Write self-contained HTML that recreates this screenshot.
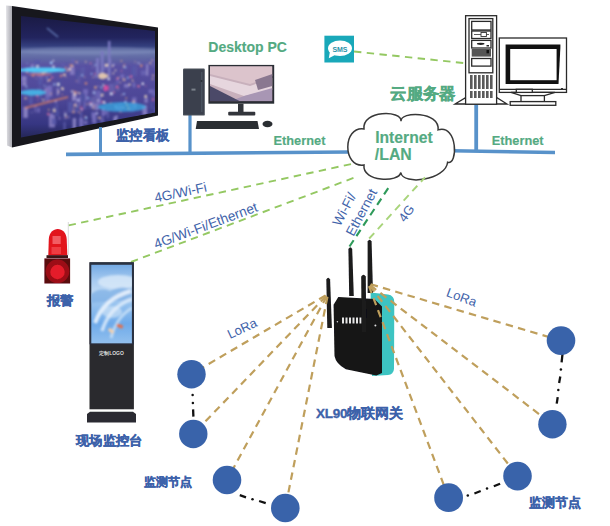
<!DOCTYPE html>
<html><head><meta charset="utf-8">
<style>
html,body{margin:0;padding:0;background:#fff;width:610px;height:526px;overflow:hidden}
svg{display:block;font-family:"Liberation Sans",sans-serif}
.g{fill:#54aa82;font-weight:bold;stroke:#54aa82;stroke-width:0.15px}
.b{fill:#3d62aa;font-weight:bold;stroke:#3d62aa;stroke-width:0.35px}
.t{fill:#3f63aa}
</style></head><body>
<svg width="610" height="526" viewBox="0 0 610 526">
<defs>
<linearGradient id="scr" x1="0" y1="16" x2="0" y2="136" gradientUnits="userSpaceOnUse">
<stop offset="0" stop-color="#1a1a44"/>
<stop offset="0.18" stop-color="#22245e"/>
<stop offset="0.25" stop-color="#343f7e"/>
<stop offset="0.3" stop-color="#6c7aae"/>
<stop offset="0.35" stop-color="#6068a4"/>
<stop offset="0.42" stop-color="#5850a2"/>
<stop offset="0.7" stop-color="#4c4696"/>
<stop offset="0.9" stop-color="#363682"/>
<stop offset="1" stop-color="#26285c"/>
</linearGradient>
<linearGradient id="silver" x1="0" y1="0" x2="1" y2="0">
<stop offset="0" stop-color="#e4e4e8"/>
<stop offset="1" stop-color="#a9a9b0"/>
</linearGradient>
<linearGradient id="kscr" x1="0" y1="0" x2="0" y2="1">
<stop offset="0" stop-color="#74aae4"/>
<stop offset="0.2" stop-color="#a6caf0"/>
<stop offset="0.35" stop-color="#c0daf4"/>
<stop offset="0.5" stop-color="#96c2ee"/>
<stop offset="0.75" stop-color="#6eaaea"/>
<stop offset="1" stop-color="#92c0ee"/>
</linearGradient>
<radialGradient id="dome" cx="0.4" cy="0.35" r="0.7">
<stop offset="0" stop-color="#ff5a60"/>
<stop offset="0.6" stop-color="#e0202a"/>
<stop offset="1" stop-color="#b3121a"/>
</radialGradient>
<radialGradient id="alarmc" cx="0.5" cy="0.5" r="0.5">
<stop offset="0" stop-color="#e8303a"/>
<stop offset="0.7" stop-color="#c01c24"/>
<stop offset="1" stop-color="#7a1014"/>
</radialGradient>
<clipPath id="scrclip"><polygon points="21,16 155,31 155,112.5 21,137.5"/></clipPath>
<clipPath id="pcclip"><rect x="210" y="66.3" width="62.4" height="35"/></clipPath>
<filter id="bl" x="-5%" y="-5%" width="110%" height="110%"><feGaussianBlur stdDeviation="0.6"/></filter>
<filter id="bl2" x="-5%" y="-5%" width="110%" height="110%"><feGaussianBlur stdDeviation="0.9"/></filter>
</defs>

<!-- ===== Monitor top-left ===== -->
<polygon points="6,5.5 12,6 12,147.5 7,145.5" fill="url(#silver)"/>
<polygon points="12,6 158,27.5 158,115.5 12,147.5" fill="#17171d"/>
<polygon points="21,16 155,31 155,112.5 21,137.5" fill="url(#scr)"/>
<g clip-path="url(#scrclip)" filter="url(#bl2)">
 <line x1="47" y1="28" x2="58" y2="37" stroke="#7fa0e0" stroke-width="1.5" opacity="0.7"/>
 <ellipse cx="90" cy="51" rx="70" ry="4" fill="#8a94c4" opacity="0.35"/>
 <rect x="81.5" y="93.8" width="5.7" height="7.2" fill="#7a72c0" opacity="0.85"/>
<rect x="45.1" y="90.8" width="4.5" height="10.1" fill="#6a64b4" opacity="0.85"/>
<rect x="80.7" y="67.1" width="4.2" height="11.0" fill="#5a5aa8" opacity="0.85"/>
<rect x="101.0" y="83.4" width="3.8" height="9.7" fill="#4e50a0" opacity="0.85"/>
<rect x="104.7" y="111.2" width="2.3" height="3.3" fill="#7a72c0" opacity="0.85"/>
<rect x="101.5" y="107.8" width="3.3" height="8.3" fill="#7a72c0" opacity="0.85"/>
<rect x="90.6" y="99.0" width="4.0" height="9.0" fill="#9088c8" opacity="0.85"/>
<rect x="109.1" y="84.0" width="4.2" height="11.4" fill="#6a64b4" opacity="0.85"/>
<rect x="116.3" y="78.2" width="2.9" height="5.6" fill="#6a64b4" opacity="0.85"/>
<rect x="96.6" y="64.9" width="2.4" height="5.6" fill="#6a64b4" opacity="0.85"/>
<rect x="150.3" y="112.2" width="2.0" height="4.9" fill="#5a5aa8" opacity="0.85"/>
<rect x="83.9" y="120.7" width="3.6" height="3.7" fill="#7a72c0" opacity="0.85"/>
<rect x="125.9" y="75.3" width="2.3" height="6.0" fill="#5658a8" opacity="0.85"/>
<rect x="123.1" y="65.6" width="3.0" height="3.9" fill="#5a5aa8" opacity="0.85"/>
<rect x="83.2" y="89.2" width="4.7" height="4.7" fill="#7a72c0" opacity="0.85"/>
<rect x="154.0" y="107.2" width="3.7" height="6.5" fill="#5658a8" opacity="0.85"/>
<rect x="77.2" y="71.6" width="3.1" height="11.7" fill="#645ea8" opacity="0.85"/>
<rect x="155.7" y="59.3" width="2.7" height="12.0" fill="#6a64b4" opacity="0.85"/>
<rect x="25.7" y="67.4" width="3.8" height="3.1" fill="#8a80c4" opacity="0.85"/>
<rect x="132.9" y="82.7" width="2.3" height="4.9" fill="#7a72c0" opacity="0.85"/>
<rect x="22.1" y="81.6" width="4.5" height="4.1" fill="#9088c8" opacity="0.85"/>
<rect x="133.2" y="66.7" width="3.5" height="8.6" fill="#645ea8" opacity="0.85"/>
<rect x="143.5" y="110.3" width="3.0" height="4.7" fill="#7a72c0" opacity="0.85"/>
<rect x="113.4" y="82.8" width="3.9" height="3.7" fill="#5a5aa8" opacity="0.85"/>
<rect x="34.1" y="60.5" width="5.9" height="5.1" fill="#5658a8" opacity="0.85"/>
<rect x="54.9" y="110.7" width="4.4" height="5.6" fill="#4e50a0" opacity="0.85"/>
<rect x="146.4" y="120.5" width="2.5" height="7.3" fill="#6a64b4" opacity="0.85"/>
<rect x="58.1" y="116.7" width="2.8" height="3.1" fill="#645ea8" opacity="0.85"/>
<rect x="76.0" y="73.9" width="2.2" height="5.5" fill="#4e50a0" opacity="0.85"/>
<rect x="32.5" y="66.9" width="3.8" height="6.0" fill="#4e50a0" opacity="0.85"/>
<rect x="100.2" y="117.1" width="3.9" height="6.2" fill="#645ea8" opacity="0.85"/>
<rect x="150.9" y="59.4" width="4.5" height="7.3" fill="#645ea8" opacity="0.85"/>
<rect x="63.4" y="122.0" width="2.3" height="7.9" fill="#5a5aa8" opacity="0.85"/>
<rect x="142.4" y="105.2" width="4.8" height="10.1" fill="#8a80c4" opacity="0.85"/>
<rect x="67.8" y="101.8" width="5.6" height="10.8" fill="#5658a8" opacity="0.85"/>
<rect x="148.4" y="59.9" width="4.0" height="3.1" fill="#5658a8" opacity="0.85"/>
<rect x="71.6" y="58.8" width="2.3" height="3.8" fill="#6a64b4" opacity="0.85"/>
<rect x="155.1" y="114.3" width="4.9" height="6.5" fill="#9088c8" opacity="0.85"/>
<rect x="79.9" y="111.7" width="2.3" height="9.8" fill="#5a5aa8" opacity="0.85"/>
<rect x="62.2" y="63.6" width="2.1" height="11.6" fill="#6a64b4" opacity="0.85"/>
<rect x="87.6" y="97.3" width="5.7" height="5.3" fill="#5a5aa8" opacity="0.85"/>
<rect x="70.0" y="67.2" width="4.4" height="7.7" fill="#8a80c4" opacity="0.85"/>
<rect x="109.8" y="86.3" width="5.6" height="5.9" fill="#645ea8" opacity="0.85"/>
<rect x="47.0" y="85.6" width="5.2" height="11.2" fill="#7a72c0" opacity="0.85"/>
<rect x="72.3" y="95.3" width="3.3" height="4.2" fill="#9088c8" opacity="0.85"/>
<rect x="67.7" y="115.3" width="2.2" height="3.6" fill="#645ea8" opacity="0.85"/>
<rect x="131.8" y="65.2" width="3.9" height="11.3" fill="#5658a8" opacity="0.85"/>
<rect x="72.0" y="91.3" width="4.7" height="9.4" fill="#9088c8" opacity="0.85"/>
<rect x="63.6" y="111.0" width="3.1" height="8.5" fill="#645ea8" opacity="0.85"/>
<rect x="97.6" y="77.8" width="5.2" height="3.2" fill="#4e50a0" opacity="0.85"/>
<rect x="75.1" y="70.2" width="5.1" height="5.4" fill="#4e50a0" opacity="0.85"/>
<rect x="128.4" y="121.0" width="2.5" height="4.0" fill="#8a80c4" opacity="0.85"/>
<rect x="150.4" y="101.8" width="2.8" height="7.3" fill="#4e50a0" opacity="0.85"/>
<rect x="117.1" y="106.3" width="4.1" height="3.3" fill="#7a72c0" opacity="0.85"/>
<rect x="57.0" y="80.1" width="4.8" height="7.7" fill="#4e50a0" opacity="0.85"/>
<rect x="73.5" y="108.7" width="5.6" height="3.8" fill="#5658a8" opacity="0.85"/>
<rect x="37.7" y="87.0" width="4.5" height="11.2" fill="#5658a8" opacity="0.85"/>
<rect x="94.8" y="99.8" width="4.0" height="10.4" fill="#8a80c4" opacity="0.85"/>
<rect x="83.1" y="99.7" width="2.8" height="9.5" fill="#6a64b4" opacity="0.85"/>
<rect x="49.0" y="115.6" width="5.9" height="11.8" fill="#8a80c4" opacity="0.85"/>
<rect x="55.6" y="104.0" width="2.1" height="7.5" fill="#5a5aa8" opacity="0.85"/>
<rect x="80.0" y="93.2" width="5.1" height="7.4" fill="#5a5aa8" opacity="0.85"/>
<rect x="49.7" y="113.5" width="3.7" height="3.3" fill="#8a80c4" opacity="0.85"/>
<rect x="113.4" y="116.6" width="3.9" height="12.0" fill="#9088c8" opacity="0.85"/>
<rect x="148.6" y="89.5" width="5.8" height="3.8" fill="#7a72c0" opacity="0.85"/>
<rect x="79.8" y="93.8" width="5.3" height="8.1" fill="#4e50a0" opacity="0.85"/>
<rect x="91.1" y="112.0" width="4.2" height="5.8" fill="#5658a8" opacity="0.85"/>
<rect x="149.9" y="113.7" width="4.4" height="5.7" fill="#4e50a0" opacity="0.85"/>
<rect x="151.7" y="91.6" width="4.3" height="4.8" fill="#6a64b4" opacity="0.85"/>
<rect x="88.4" y="96.7" width="2.1" height="11.7" fill="#5658a8" opacity="0.85"/>
<rect x="94.0" y="121.3" width="2.5" height="3.8" fill="#4e50a0" opacity="0.85"/>
<rect x="29.0" y="92.5" width="3.7" height="11.6" fill="#5658a8" opacity="0.85"/>
<rect x="56.6" y="88.3" width="2.5" height="6.9" fill="#9088c8" opacity="0.85"/>
<rect x="91.4" y="65.0" width="3.7" height="3.3" fill="#645ea8" opacity="0.85"/>
<rect x="37.6" y="107.9" width="2.1" height="4.7" fill="#7a72c0" opacity="0.85"/>
<rect x="21.6" y="76.2" width="4.9" height="5.2" fill="#9088c8" opacity="0.85"/>
<rect x="34.3" y="104.8" width="2.5" height="7.6" fill="#645ea8" opacity="0.85"/>
<rect x="117.6" y="102.9" width="5.5" height="3.2" fill="#5658a8" opacity="0.85"/>
<rect x="132.2" y="97.4" width="4.2" height="10.8" fill="#7a72c0" opacity="0.85"/>
<rect x="92.0" y="112.5" width="4.4" height="10.7" fill="#7a72c0" opacity="0.85"/>
<rect x="144.4" y="98.2" width="3.4" height="4.6" fill="#8a80c4" opacity="0.85"/>
<rect x="141.1" y="70.5" width="5.1" height="4.8" fill="#6a64b4" opacity="0.85"/>
<rect x="38.2" y="73.3" width="4.9" height="5.3" fill="#6a64b4" opacity="0.85"/>
<rect x="79.1" y="118.2" width="4.2" height="9.3" fill="#7a72c0" opacity="0.85"/>
<rect x="74.8" y="101.9" width="2.1" height="4.8" fill="#8a80c4" opacity="0.85"/>
<rect x="143.9" y="120.0" width="2.5" height="7.6" fill="#8a80c4" opacity="0.85"/>
<rect x="88.4" y="101.9" width="2.8" height="3.6" fill="#6a64b4" opacity="0.85"/>
<rect x="23.3" y="106.8" width="4.5" height="11.1" fill="#9088c8" opacity="0.85"/>
<rect x="39.9" y="69.8" width="2.8" height="10.6" fill="#645ea8" opacity="0.85"/>
<rect x="146.1" y="64.1" width="2.2" height="11.6" fill="#9088c8" opacity="0.85"/>
<rect x="30.6" y="64.2" width="3.6" height="6.8" fill="#8a80c4" opacity="0.85"/>
<rect x="78.5" y="96.5" width="2.1" height="9.3" fill="#7a72c0" opacity="0.85"/>
<rect x="44.7" y="87.1" width="5.0" height="6.6" fill="#7a72c0" opacity="0.85"/>
<rect x="102.3" y="64.1" width="5.2" height="5.9" fill="#6a64b4" opacity="0.85"/>
<rect x="129.0" y="103.1" width="5.4" height="8.7" fill="#5658a8" opacity="0.85"/>
<rect x="97.5" y="70.2" width="4.3" height="6.1" fill="#645ea8" opacity="0.85"/>
<rect x="58.0" y="65.4" width="5.0" height="4.4" fill="#5658a8" opacity="0.85"/>
<rect x="38.1" y="79.1" width="4.2" height="6.3" fill="#5658a8" opacity="0.85"/>
<rect x="124.1" y="84.0" width="4.9" height="3.6" fill="#8a80c4" opacity="0.85"/>
<rect x="61.0" y="64.5" width="5.6" height="11.9" fill="#5a5aa8" opacity="0.85"/>
<rect x="51.6" y="118.5" width="4.7" height="6.0" fill="#5658a8" opacity="0.85"/>
<rect x="97.5" y="92.1" width="3.6" height="12.0" fill="#7a72c0" opacity="0.85"/>
<rect x="115.4" y="106.8" width="5.9" height="3.2" fill="#6a64b4" opacity="0.85"/>
<rect x="120.5" y="74.4" width="3.6" height="3.5" fill="#7a72c0" opacity="0.85"/>
<rect x="108.1" y="58.7" width="3.0" height="5.5" fill="#8a80c4" opacity="0.85"/>
<rect x="94.8" y="90.5" width="5.9" height="8.1" fill="#6a64b4" opacity="0.85"/>
<rect x="106.8" y="109.8" width="2.3" height="8.4" fill="#5a5aa8" opacity="0.85"/>
<rect x="72.6" y="118.1" width="3.5" height="11.7" fill="#9088c8" opacity="0.85"/>
<rect x="93.7" y="96.2" width="3.7" height="7.5" fill="#645ea8" opacity="0.85"/>
<rect x="91.6" y="96.3" width="3.5" height="5.6" fill="#645ea8" opacity="0.85"/>
<circle cx="96.0" cy="76.4" r="1.1" fill="#c8c8f8" opacity="0.51"/>
<circle cx="124.0" cy="94.0" r="1.1" fill="#a8d0ff" opacity="0.84"/>
<circle cx="73.5" cy="112.1" r="1.2" fill="#f0b080" opacity="0.76"/>
<circle cx="117.4" cy="78.5" r="1.2" fill="#e070a0" opacity="0.69"/>
<circle cx="85.0" cy="116.4" r="0.7" fill="#e89070" opacity="0.92"/>
<circle cx="117.4" cy="87.2" r="1.4" fill="#e070a0" opacity="0.77"/>
<circle cx="37.2" cy="96.2" r="0.9" fill="#e070a0" opacity="0.89"/>
<circle cx="69.1" cy="69.0" r="0.8" fill="#ffd0a0" opacity="0.80"/>
<circle cx="82.1" cy="75.2" r="1.0" fill="#a8d0ff" opacity="0.66"/>
<circle cx="120.2" cy="107.3" r="0.6" fill="#c8c8f8" opacity="0.83"/>
<circle cx="53.5" cy="66.6" r="1.3" fill="#ffffff" opacity="0.62"/>
<circle cx="102.5" cy="102.1" r="1.1" fill="#e070a0" opacity="0.78"/>
<circle cx="121.4" cy="71.0" r="0.7" fill="#e070a0" opacity="0.90"/>
<circle cx="27.2" cy="63.5" r="0.7" fill="#a8d0ff" opacity="0.51"/>
<circle cx="27.0" cy="72.9" r="0.8" fill="#e89070" opacity="0.91"/>
<circle cx="43.2" cy="73.6" r="1.4" fill="#ffe8c0" opacity="0.72"/>
<circle cx="49.8" cy="79.9" r="1.2" fill="#e89070" opacity="0.86"/>
<circle cx="81.0" cy="107.7" r="1.3" fill="#e070a0" opacity="0.70"/>
<circle cx="120.6" cy="82.6" r="0.6" fill="#ffd0a0" opacity="0.79"/>
<circle cx="152.6" cy="78.9" r="1.0" fill="#ffd0a0" opacity="0.69"/>
<circle cx="70.7" cy="65.6" r="1.3" fill="#e89070" opacity="0.74"/>
<circle cx="79.0" cy="92.9" r="1.2" fill="#ffe8c0" opacity="0.63"/>
<circle cx="124.4" cy="64.4" r="0.7" fill="#e89070" opacity="0.81"/>
<circle cx="87.3" cy="104.3" r="0.8" fill="#ffd0a0" opacity="0.60"/>
<circle cx="108.8" cy="79.0" r="1.3" fill="#ffffff" opacity="0.82"/>
<circle cx="97.1" cy="113.3" r="1.3" fill="#c8c8f8" opacity="0.70"/>
<circle cx="128.0" cy="77.7" r="0.8" fill="#a8d0ff" opacity="0.94"/>
<circle cx="118.3" cy="89.9" r="0.6" fill="#ffffff" opacity="0.51"/>
<circle cx="111.4" cy="93.9" r="1.2" fill="#ffffff" opacity="0.86"/>
<circle cx="93.4" cy="108.5" r="1.0" fill="#ffd0a0" opacity="0.54"/>
<circle cx="82.0" cy="109.6" r="1.2" fill="#e070a0" opacity="0.73"/>
<circle cx="93.8" cy="92.9" r="1.4" fill="#a8d0ff" opacity="0.53"/>
<circle cx="94.2" cy="105.7" r="0.6" fill="#e89070" opacity="0.62"/>
<circle cx="35.9" cy="78.2" r="0.5" fill="#ffd0a0" opacity="0.54"/>
<circle cx="129.7" cy="84.5" r="1.1" fill="#ffe8c0" opacity="0.84"/>
<circle cx="90.8" cy="104.4" r="0.9" fill="#ffffff" opacity="0.86"/>
<circle cx="66.0" cy="67.9" r="0.9" fill="#e89070" opacity="0.82"/>
<circle cx="142.8" cy="83.8" r="1.2" fill="#ffffff" opacity="0.88"/>
<circle cx="128.4" cy="108.4" r="1.3" fill="#f0b080" opacity="0.74"/>
<circle cx="115.7" cy="106.5" r="0.9" fill="#a8d0ff" opacity="0.91"/>
<circle cx="54.4" cy="69.4" r="1.1" fill="#ffd0a0" opacity="0.64"/>
<circle cx="73.4" cy="90.7" r="0.7" fill="#f0b080" opacity="0.71"/>
<circle cx="118.5" cy="77.6" r="0.6" fill="#ffd0a0" opacity="0.91"/>
<circle cx="121.4" cy="61.0" r="0.9" fill="#f0b080" opacity="0.64"/>
<circle cx="48.1" cy="80.8" r="1.0" fill="#ffe8c0" opacity="0.77"/>
<circle cx="51.6" cy="70.7" r="0.8" fill="#ffd0a0" opacity="0.91"/>
<circle cx="145.7" cy="96.4" r="1.3" fill="#ffe8c0" opacity="0.88"/>
<circle cx="86.0" cy="83.4" r="1.4" fill="#e89070" opacity="0.72"/>
<circle cx="51.2" cy="62.9" r="1.4" fill="#a8d0ff" opacity="0.94"/>
<circle cx="126.9" cy="104.9" r="1.2" fill="#f0b080" opacity="0.80"/>
<circle cx="53.4" cy="60.6" r="0.9" fill="#ffffff" opacity="0.70"/>
<circle cx="54.5" cy="84.4" r="1.3" fill="#a8d0ff" opacity="0.57"/>
<circle cx="64.5" cy="75.0" r="1.3" fill="#ffd0a0" opacity="0.79"/>
<circle cx="153.1" cy="75.5" r="1.0" fill="#ffd0a0" opacity="0.76"/>
<circle cx="45.5" cy="71.8" r="1.3" fill="#ffd0a0" opacity="0.87"/>
<circle cx="32.9" cy="75.7" r="1.1" fill="#e89070" opacity="0.90"/>
<circle cx="113.6" cy="64.8" r="1.2" fill="#c8c8f8" opacity="0.51"/>
<circle cx="46.8" cy="71.2" r="1.1" fill="#ffe8c0" opacity="0.59"/>
<circle cx="93.7" cy="90.5" r="0.6" fill="#c8c8f8" opacity="0.64"/>
<circle cx="75.5" cy="92.3" r="1.4" fill="#e89070" opacity="0.66"/>
<circle cx="112.7" cy="66.1" r="0.9" fill="#ffe8c0" opacity="0.84"/>
<circle cx="125.5" cy="67.1" r="0.9" fill="#a8d0ff" opacity="0.82"/>
<circle cx="84.7" cy="77.0" r="0.6" fill="#f0b080" opacity="0.89"/>
<circle cx="133.5" cy="101.7" r="1.3" fill="#ffd0a0" opacity="0.63"/>
<circle cx="71.6" cy="91.3" r="0.8" fill="#ffffff" opacity="0.84"/>
<circle cx="95.3" cy="65.0" r="0.7" fill="#a8d0ff" opacity="0.83"/>
<circle cx="65.5" cy="114.8" r="1.0" fill="#ffffff" opacity="0.70"/>
<circle cx="72.5" cy="65.9" r="1.1" fill="#ffd0a0" opacity="0.80"/>
<circle cx="115.5" cy="70.4" r="0.9" fill="#ffe8c0" opacity="0.77"/>
<circle cx="33.9" cy="73.1" r="0.6" fill="#e89070" opacity="0.70"/>
<circle cx="123.8" cy="79.8" r="1.2" fill="#ffd0a0" opacity="0.79"/>
<circle cx="123.2" cy="107.6" r="0.8" fill="#ffffff" opacity="0.91"/>
<circle cx="104.2" cy="102.2" r="1.1" fill="#ffffff" opacity="0.94"/>
<circle cx="126.2" cy="98.3" r="1.0" fill="#f0b080" opacity="0.62"/>
<circle cx="46.9" cy="77.8" r="0.9" fill="#a8d0ff" opacity="0.59"/>
<circle cx="65.9" cy="77.0" r="0.6" fill="#ffd0a0" opacity="0.61"/>
<circle cx="93.1" cy="77.3" r="0.7" fill="#ffd0a0" opacity="0.76"/>
<circle cx="48.2" cy="114.1" r="1.4" fill="#e070a0" opacity="0.76"/>
<circle cx="25.5" cy="98.2" r="1.2" fill="#ffd0a0" opacity="0.61"/>
<circle cx="98.1" cy="100.4" r="0.8" fill="#ffffff" opacity="0.62"/>
<circle cx="138.6" cy="86.2" r="1.2" fill="#e070a0" opacity="0.91"/>
<circle cx="93.7" cy="92.5" r="1.0" fill="#c8c8f8" opacity="0.58"/>
<circle cx="120.4" cy="112.0" r="0.8" fill="#ffd0a0" opacity="0.56"/>
<circle cx="130.9" cy="76.7" r="1.3" fill="#e070a0" opacity="0.84"/>
<circle cx="69.9" cy="69.6" r="1.0" fill="#e89070" opacity="0.70"/>
<circle cx="75.2" cy="105.4" r="1.3" fill="#ffd0a0" opacity="0.64"/>
<circle cx="110.6" cy="102.8" r="0.8" fill="#f0b080" opacity="0.57"/>
<circle cx="76.4" cy="61.9" r="1.0" fill="#e89070" opacity="0.76"/>
<circle cx="44.9" cy="90.1" r="0.7" fill="#ffffff" opacity="0.52"/>
<circle cx="125.5" cy="101.9" r="1.2" fill="#a8d0ff" opacity="0.93"/>
<circle cx="101.2" cy="87.3" r="0.9" fill="#a8d0ff" opacity="0.84"/>
<circle cx="86.1" cy="117.7" r="1.3" fill="#a8d0ff" opacity="0.87"/>
<circle cx="37.5" cy="66.6" r="1.3" fill="#ffffff" opacity="0.74"/>
<circle cx="79.1" cy="112.4" r="0.8" fill="#f0b080" opacity="0.63"/>
<circle cx="103.3" cy="85.1" r="0.8" fill="#ffffff" opacity="0.84"/>
<circle cx="62.2" cy="94.4" r="0.6" fill="#e89070" opacity="0.88"/>
<circle cx="54.0" cy="110.6" r="1.4" fill="#ffe8c0" opacity="0.81"/>
<circle cx="91.5" cy="73.9" r="0.8" fill="#a8d0ff" opacity="0.92"/>
<circle cx="138.1" cy="118.0" r="1.2" fill="#ffffff" opacity="0.89"/>
<circle cx="77.6" cy="106.7" r="0.7" fill="#a8d0ff" opacity="0.76"/>
<circle cx="141.3" cy="65.7" r="1.2" fill="#e89070" opacity="0.90"/>
<circle cx="98.0" cy="86.3" r="0.8" fill="#c8c8f8" opacity="0.51"/>
<circle cx="44.7" cy="85.6" r="0.9" fill="#a8d0ff" opacity="0.56"/>
<circle cx="113.4" cy="73.4" r="0.8" fill="#ffe8c0" opacity="0.90"/>
<circle cx="62.6" cy="88.9" r="1.3" fill="#ffe8c0" opacity="0.90"/>
<circle cx="48.8" cy="109.8" r="1.1" fill="#f0b080" opacity="0.59"/>
<circle cx="132.6" cy="80.5" r="0.9" fill="#ffd0a0" opacity="0.79"/>
<circle cx="114.1" cy="92.5" r="1.0" fill="#e070a0" opacity="0.59"/>
<circle cx="138.2" cy="62.9" r="0.6" fill="#ffffff" opacity="0.93"/>
<circle cx="58.2" cy="84.4" r="1.3" fill="#ffffff" opacity="0.81"/>
<circle cx="145.8" cy="85.8" r="0.6" fill="#e070a0" opacity="0.89"/>
<circle cx="37.9" cy="100.1" r="0.7" fill="#e070a0" opacity="0.73"/>
<circle cx="61.0" cy="75.9" r="1.2" fill="#e89070" opacity="0.77"/>
<circle cx="52.2" cy="77.5" r="1.3" fill="#e070a0" opacity="0.62"/>
<circle cx="106.5" cy="65.2" r="1.4" fill="#ffe8c0" opacity="0.91"/>
<circle cx="31.7" cy="112.6" r="0.5" fill="#c8c8f8" opacity="0.74"/>
<circle cx="77.9" cy="93.0" r="0.6" fill="#e070a0" opacity="0.61"/>
<circle cx="58.8" cy="91.8" r="0.7" fill="#ffd0a0" opacity="0.94"/>
<circle cx="26.4" cy="86.8" r="1.2" fill="#a8d0ff" opacity="0.50"/>
<circle cx="139.7" cy="63.5" r="0.6" fill="#ffffff" opacity="0.64"/>
<circle cx="85.8" cy="61.9" r="0.8" fill="#ffd0a0" opacity="0.77"/>
<circle cx="123.8" cy="66.5" r="0.9" fill="#ffe8c0" opacity="0.75"/>
<circle cx="55.8" cy="101.5" r="1.1" fill="#c8c8f8" opacity="0.72"/>
<circle cx="51.2" cy="93.6" r="0.9" fill="#f0b080" opacity="0.59"/>
<circle cx="150.1" cy="63.0" r="0.9" fill="#ffd0a0" opacity="0.65"/>
<circle cx="102.3" cy="95.3" r="1.2" fill="#ffe8c0" opacity="0.83"/>
<circle cx="135.1" cy="61.8" r="0.6" fill="#ffd0a0" opacity="0.76"/>
<circle cx="93.7" cy="105.9" r="0.7" fill="#ffd0a0" opacity="0.52"/>
<circle cx="78.1" cy="100.3" r="1.2" fill="#c8c8f8" opacity="0.84"/>
<circle cx="87.8" cy="97.7" r="1.0" fill="#a8d0ff" opacity="0.61"/>
<circle cx="43.1" cy="100.1" r="1.2" fill="#ffe8c0" opacity="0.53"/>
<circle cx="76.2" cy="81.1" r="0.7" fill="#f0b080" opacity="0.56"/>
<circle cx="121.7" cy="94.8" r="0.6" fill="#ffe8c0" opacity="0.73"/>
<circle cx="152.1" cy="60.2" r="0.9" fill="#ffd0a0" opacity="0.54"/>
<circle cx="95.4" cy="87.4" r="1.3" fill="#f0b080" opacity="0.81"/>
<circle cx="116.6" cy="116.6" r="1.1" fill="#c8c8f8" opacity="0.61"/>
<circle cx="94.8" cy="74.0" r="0.9" fill="#e070a0" opacity="0.66"/>
<circle cx="66.5" cy="116.9" r="1.0" fill="#f0b080" opacity="0.57"/>
<circle cx="99.3" cy="117.7" r="1.2" fill="#ffd0a0" opacity="0.71"/>
<circle cx="73.9" cy="108.9" r="0.8" fill="#f0b080" opacity="0.60"/>
<circle cx="67.9" cy="70.6" r="1.0" fill="#ffd0a0" opacity="0.72"/>
<circle cx="74.8" cy="94.4" r="1.2" fill="#ffe8c0" opacity="0.70"/>
<circle cx="153.1" cy="99.4" r="1.3" fill="#e070a0" opacity="0.74"/>
<circle cx="77.3" cy="62.7" r="0.7" fill="#c8c8f8" opacity="0.78"/>
<circle cx="90.5" cy="103.0" r="1.0" fill="#e070a0" opacity="0.62"/>
<circle cx="69.7" cy="68.9" r="1.3" fill="#ffffff" opacity="0.56"/>
<circle cx="53.8" cy="108.7" r="0.6" fill="#ffffff" opacity="0.88"/>
<circle cx="81.4" cy="109.6" r="0.8" fill="#c8c8f8" opacity="0.85"/>
<circle cx="90.5" cy="63.2" r="0.9" fill="#e070a0" opacity="0.72"/>
<circle cx="46.8" cy="89.8" r="0.6" fill="#e070a0" opacity="0.64"/>
 <g fill="#7a78c0" opacity="1">
  <rect x="108" y="41" width="2.4" height="36"/>
  <rect x="100.8" y="51" width="2.8" height="24"/>
  <rect x="96" y="58" width="3" height="16"/>
 </g>
 <ellipse cx="42" cy="70" rx="24" ry="2.6" fill="#50d0fa" opacity="0.95"/>
 <ellipse cx="40" cy="74.5" rx="12" ry="1.2" fill="#d08080" opacity="0.8"/>
 <ellipse cx="33" cy="92.5" rx="13" ry="3" fill="#44c0f0" opacity="0.85"/>
 <line x1="25" y1="108" x2="68" y2="97" stroke="#e08060" stroke-width="2" opacity="0.7"/>
 <ellipse cx="122" cy="107" rx="24" ry="5" fill="#38b0e8" opacity="0.7"/>
 <ellipse cx="103" cy="76" rx="5" ry="3" fill="#ffe0b0" opacity="0.8"/>
 <ellipse cx="106" cy="88" rx="2.5" ry="3" fill="#f050a0" opacity="0.8"/>
</g>

<!-- ===== Ethernet lines ===== -->
<g fill="#5892ca">
<polygon points="66,152.4 350,150.2 350,153.8 66,156.2"/>
<rect x="99" y="127" width="3" height="27"/>
<rect x="188.4" y="115" width="3.2" height="38"/>
<polygon points="452,148.9 555,150.7 555,154.3 452,152.5"/>
<rect x="474.3" y="104" width="3.8" height="47"/>
</g>

<!-- ===== Desktop PC ===== -->
<g filter="url(#bl)">
<rect x="183" y="68.6" width="21.8" height="47" rx="1.2" fill="#4a505a"/>
<rect x="184" y="69.6" width="19.8" height="45" rx="0.8" fill="#3a414d"/>
<rect x="201" y="72" width="1.5" height="40" fill="#4a525e"/>
<rect x="191.5" y="88.6" width="4" height="2" fill="#7a808a"/>
<circle cx="201.5" cy="81" r="1" fill="#2a2e36"/>
<rect x="208.4" y="64.9" width="65.8" height="38.8" fill="#2b2d34"/>
<g clip-path="url(#pcclip)">
 <rect x="210" y="66.3" width="62.4" height="35" fill="#c8b0bc"/>
 <polygon points="210,66.3 272.4,66.3 272.4,76 250,84 210,74" fill="#dcc4cc"/>
 <polygon points="210,76 250,86 272.4,78 272.4,90 244,96 210,84" fill="#e6d6de"/>
 <polygon points="244,96 272.4,88 272.4,101.3 230,101.3" fill="#a896b4"/>
 <polygon points="210,86 240,101.3 210,101.3" fill="#4c4a68"/>
 <polygon points="255,80 272.4,74 272.4,86 258,90" fill="#8a7890"/>
</g>
<rect x="238" y="103.7" width="5.5" height="9" fill="#33353b"/>
<rect x="228.2" y="111.8" width="27.1" height="3.6" rx="1" fill="#33353b"/>
<polygon points="197,121 257.5,121 259,129 195.7,129" fill="#2c2e33"/>
<ellipse cx="267.5" cy="124" rx="5" ry="3.2" fill="#2c2e33"/>
</g>

<!-- ===== Cloud ===== -->
<path d="M364,128.9 C362,110 402,110 401,121.3 C400,111 440,111 438.1,129.9 C458,124 458,166 447.6,162.2 C446,180 403,186 400.8,172.5 C399,183 362,182 364,165 C342.4,168 342.4,126 364,128.9 Z" fill="#fff" stroke="#383838" stroke-width="1.5"/>

<!-- ===== Server ===== -->
<g fill="#fff" stroke="#2a2a2a" stroke-width="1.3">
<polygon points="455,104 466,97.5 496.5,97.5 507,104"/>
<rect x="465.6" y="15.7" width="31" height="88.5"/>
<rect x="469" y="18.6" width="23.8" height="54.2"/>
<rect x="471.7" y="21.4" width="19.3" height="8.6"/>
<rect x="471.7" y="31" width="19.3" height="7.5"/>
<rect x="471.7" y="40.4" width="19.3" height="7.6"/>
<rect x="471.7" y="58.5" width="19.3" height="7.6"/>
<rect x="499.3" y="38" width="67.2" height="54.4"/>
<polygon points="511,92.4 555,92.4 544.4,95.6 521,95.6"/>
<rect x="521" y="95.6" width="23.4" height="6"/>
<rect x="510.2" y="101.6" width="45.6" height="3.7"/>
<line x1="500" y1="89.3" x2="566" y2="89.3"/>
<rect x="516.3" y="89.3" width="16" height="3.1"/>
</g>
<rect x="471.7" y="49" width="19.3" height="7.6" fill="#555"/>
<line x1="474" y1="34.5" x2="489" y2="34.5" stroke="#333" stroke-width="0.8"/>
<rect x="481" y="32.5" width="5.4" height="4" fill="#fff" stroke="#333" stroke-width="0.9"/>
<ellipse cx="480.7" cy="43.8" rx="3.8" ry="1.1" fill="#222"/>
<rect x="486.5" y="45" width="2.5" height="1.5" fill="#222"/>
<rect x="486.5" y="50" width="2.5" height="3.3" fill="#111"/>
<polygon points="505.6,44.4 560.4,44.4 560.4,47 558.5,84 505.6,84" fill="#111"/>
<rect x="510.2" y="49" width="46.4" height="31.2" fill="#fff"/>
<rect x="561" y="88" width="2" height="1.3" fill="#333"/>
<g fill="#5a5a5a">
<rect x="470" y="75" width="2.6" height="14"/><rect x="474" y="75" width="2.6" height="14"/><rect x="478" y="75" width="2.6" height="14"/>
<rect x="482" y="75" width="2.6" height="14"/><rect x="486" y="75" width="2.6" height="14"/><rect x="490" y="75" width="2.6" height="14"/>
<rect x="470" y="91" width="2.6" height="7"/><rect x="474" y="91" width="2.6" height="7"/><rect x="478" y="91" width="2.6" height="7"/>
<rect x="482" y="91" width="2.6" height="7"/><rect x="486" y="91" width="2.6" height="7"/><rect x="490" y="91" width="2.6" height="7"/>
</g>

<!-- ===== SMS icon ===== -->
<rect x="324.4" y="35.7" width="29.6" height="26.8" fill="#19a8b9"/>
<ellipse cx="340" cy="48.3" rx="12" ry="7.8" fill="#fff"/>
<polygon points="330,51 328.8,58.3 337,54" fill="#fff"/>
<text x="340" y="51.7" font-size="7" fill="#2c93a8" text-anchor="middle" font-weight="bold" textLength="15">SMS</text>

<!-- ===== dashed green lines ===== -->
<g stroke="#94c862" stroke-width="1.9" stroke-dasharray="7.4,5.4" fill="none">
<line x1="354" y1="51.5" x2="466" y2="63.3"/>
<line x1="68.6" y1="225.4" x2="356" y2="163"/>
<line x1="131" y1="262" x2="356" y2="177"/>
<line x1="369.2" y1="238.5" x2="425" y2="177.3" stroke="#a8d47a"/>
</g>
<line x1="349.5" y1="246.5" x2="391" y2="184" stroke="#2e9a5a" stroke-width="2.1" stroke-dasharray="7.5,5"/>

<!-- ===== Router ===== -->
<g filter="url(#bl)">
<path d="M370.6,292.5 L388,294.5 Q394.3,295.5 394.3,302 L394,369 Q393.5,374.5 388,375 L372,376 Z" fill="#3ec4c2"/>
<path d="M338.3,297.1 L374.4,299 L382,306.6 L382,373 L376.3,375.5 L345.9,369.3 Q336,364 334.5,356 L333.6,304.7 Z" fill="#121214"/>
<g fill="#1a1a1c">
<path d="M326.3,279.5 Q328.2,276.2 330.1,279.5 L331.9,328 L327.3,328 Z"/>
<path d="M348.4,249 Q350.3,245.7 352.2,249 L353.8,296 L349.2,296 Z"/>
<path d="M367.6,241.5 Q369.6,238 371.6,241.5 L373,293 L367.6,293 Z"/>
<path d="M361.2,276.5 Q363.5,272.8 365.8,276.5 L366.2,332 L361.6,332 Z"/>
</g>
<g fill="#e6e6e6">
<rect x="342" y="317.5" width="2" height="6"/><rect x="345.5" y="317.5" width="2" height="6"/><rect x="349" y="317.5" width="2" height="6"/>
<rect x="352.5" y="317.5" width="2" height="6"/><rect x="356" y="317.5" width="2" height="6"/><rect x="359.5" y="317.5" width="1.8" height="6"/>
</g>
<circle cx="375.4" cy="325.6" r="1" fill="#ddd"/>
<circle cx="337.4" cy="321.8" r="0.8" fill="#ddd"/>
</g>

<!-- ===== LoRa lines ===== -->
<g stroke="#bf9f5c" stroke-width="2.2" stroke-dasharray="7.5,5.3" stroke-dashoffset="10" fill="none">
<line x1="328" y1="294" x2="191.5" y2="374"/>
<line x1="328" y1="294" x2="193.3" y2="434"/>
<line x1="328" y1="294" x2="227" y2="480"/>
<line x1="328" y1="294" x2="285.3" y2="508"/>
<line x1="368" y1="283.5" x2="561" y2="340.6"/>
<line x1="368" y1="283.5" x2="552.4" y2="424.3"/>
<line x1="368" y1="283.5" x2="517.5" y2="476"/>
<line x1="368" y1="283.5" x2="448.6" y2="497.7"/>
</g>
<g stroke="#111" stroke-width="2.3" fill="none">
<line x1="193.1" y1="409.4" x2="193.4" y2="416.6"/>
<line x1="239.8" y1="495.2" x2="246" y2="497.3"/>
<line x1="259.1" y1="501" x2="265.7" y2="503.2"/>
<line x1="562.6" y1="353" x2="561.6" y2="362.4"/>
<line x1="560.3" y1="376.5" x2="559.1" y2="383"/>
<line x1="557.7" y1="397.1" x2="556.7" y2="403.6"/>
<line x1="474.4" y1="493.5" x2="480.7" y2="491"/>
<line x1="493.8" y1="486.3" x2="500.1" y2="483.7"/>
</g>
<g fill="#111">
<circle cx="192.6" cy="394.9" r="1.25"/><circle cx="192.9" cy="402.9" r="1.25"/>
<circle cx="252.5" cy="499.3" r="1.25"/>
<circle cx="560.9" cy="369.4" r="1.25"/><circle cx="558.3" cy="390" r="1.25"/>
<circle cx="467.8" cy="495.6" r="1.25"/><circle cx="487" cy="488.5" r="1.25"/>
</g>

<!-- ===== nodes ===== -->
<g fill="#3963aa">
<circle cx="191.5" cy="374.3" r="14.2"/>
<circle cx="193.3" cy="434" r="14.2"/>
<circle cx="227" cy="480" r="14.3"/>
<circle cx="285.3" cy="508" r="14.3"/>
<circle cx="561" cy="340.6" r="14.3"/>
<circle cx="552.4" cy="424.3" r="14.2"/>
<circle cx="517.5" cy="476.1" r="14.3"/>
<circle cx="448.6" cy="497.7" r="14.4"/>
</g>

<!-- ===== Alarm ===== -->
<line x1="68.3" y1="222" x2="68.3" y2="255" stroke="#d0d0d0" stroke-width="0.8"/>
<g filter="url(#bl)">
<path d="M48.3,255.5 L48.8,239 C49.5,225.5 66,225.5 66.7,239 L67.3,255.5 Z" fill="#e2121e"/>
<rect x="52.5" y="236" width="8.2" height="8" fill="#ff9a9a" opacity="0.55"/>
<rect x="51.5" y="247" width="9.5" height="7" fill="#ff7070" opacity="0.45"/>
<rect x="46.5" y="255.2" width="21.5" height="2.8" fill="#3a1416"/>
<rect x="44.4" y="258.4" width="25.7" height="25.1" fill="#5a0a10"/>
<circle cx="57.5" cy="271.3" r="11.8" fill="#9c1018"/>
<circle cx="57.5" cy="272" r="7.2" fill="#e41e2a"/>
</g>

<!-- ===== Kiosk ===== -->
<g filter="url(#bl)">
<rect x="89.5" y="262.3" width="44.4" height="147" fill="#29292e"/>
<rect x="89.5" y="262.3" width="44.4" height="82" fill="#2c3342"/>
<rect x="91.3" y="264.8" width="40.6" height="78.5" fill="url(#kscr)"/>
<clipPath id="kclip"><rect x="91.3" y="264.8" width="40.6" height="78.5"/></clipPath>
<g clip-path="url(#kclip)" filter="url(#bl2)">
 <ellipse cx="118" cy="282" rx="20" ry="7" fill="#dcebfa" opacity="0.75"/>
 <path d="M91,294 Q100,287 110,291 Q120,285 132,289 L132,300 L91,303 Z" fill="#80b2e6" opacity="0.8"/>
 <path d="M95,323 C101,306 113,296 131,291" stroke="#eef6fe" stroke-width="4" fill="none" opacity="0.85"/>
 <path d="M102,331 C107,315 117,304 132,299" stroke="#e2effc" stroke-width="3.5" fill="none" opacity="0.8"/>
 <path d="M111,338 C115,323 123,313 132,308" stroke="#d6e8fa" stroke-width="3" fill="none" opacity="0.7"/>
 <ellipse cx="112" cy="312" rx="10" ry="6" fill="#e8f2fc" opacity="0.5"/>
 <rect x="116.6" y="324.5" width="6.5" height="3.3" rx="1" fill="#e07050" transform="rotate(20 120 326)"/>
 <rect x="108" y="329" width="6" height="3.5" rx="1" fill="#f0d0b0" transform="rotate(40 111 331)"/>
</g>
<polygon points="87,422.6 87,414 90,411.7 133,411.7 136,414 136,422.6" fill="#2b2c31"/>
</g>
<text x="111.5" y="354.5" font-size="5" fill="#ddd" text-anchor="middle" font-weight="bold">定制LOGO</text>

<!-- ===== Texts ===== -->
<text class="b" x="115.8" y="139.8" font-size="13.5" textLength="53.5" lengthAdjust="spacingAndGlyphs">监控看板</text>
<text class="g" x="208.3" y="52" font-size="14">Desktop PC</text>
<text class="g" x="273.5" y="145.2" font-size="12.8">Ethernet</text>
<text class="g" x="491.7" y="145.2" font-size="12.8">Ethernet</text>
<text class="g" x="375.2" y="142.8" font-size="16.3" textLength="57.5" lengthAdjust="spacingAndGlyphs">Internet</text>
<text class="g" x="374.8" y="160" font-size="16.3" textLength="37" lengthAdjust="spacingAndGlyphs">/LAN</text>
<text class="g" x="390.3" y="99.2" font-size="16.4" textLength="65.5" lengthAdjust="spacingAndGlyphs" style="stroke-width:0.4px">云服务器</text>
<text class="b" x="47.2" y="304.6" font-size="13.2" textLength="26.6" lengthAdjust="spacingAndGlyphs">报警</text>
<text class="b" x="76" y="444.5" font-size="13.2" textLength="66.5" lengthAdjust="spacingAndGlyphs">现场监控台</text>
<text class="b" x="143.9" y="486" font-size="12.3">监测节点</text>
<text class="b" x="529" y="507.3" font-size="12.5">监测节点</text>
<text class="b" x="316" y="417.8" font-size="13.5" textLength="86.5">XL90物联网关</text>
<text class="t" transform="translate(155.5,202.5) rotate(-12.2)" font-size="13.5">4G/Wi-Fi</text>
<text class="t" transform="translate(156,249) rotate(-20.4)" font-size="13.7">4G/Wi-Fi/Ethernet</text>
<text class="t" transform="translate(340,227) rotate(-62)" font-size="13.5">Wi-Fi/</text>
<text class="t" transform="translate(353.5,237) rotate(-62)" font-size="13.5">Ethernet</text>
<text class="t" transform="translate(405,223) rotate(-55)" font-size="13">4G</text>
<text class="t" transform="translate(230,339) rotate(-25)" font-size="13">LoRa</text>
<text class="t" transform="translate(445.5,296) rotate(20)" font-size="13">LoRa</text>
</svg>
</body></html>
